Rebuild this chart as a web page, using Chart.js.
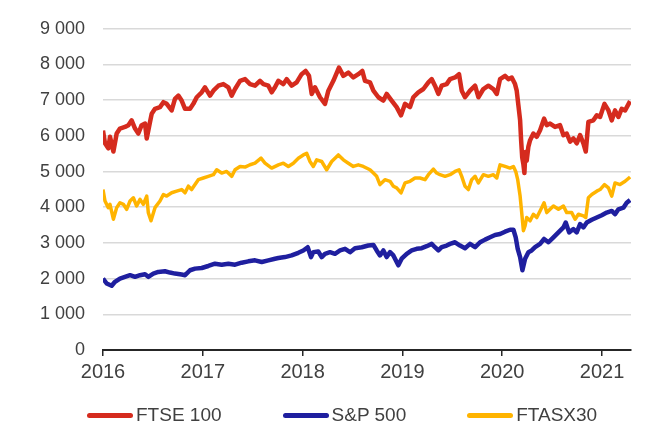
<!DOCTYPE html>
<html>
<head>
<meta charset="utf-8">
<script src="https://cdn.jsdelivr.net/npm/chart.js@4"></script>
<style>
  body { margin: 0; background: #fff; }
  #wrap { position: relative; width: 670px; height: 446px; }
  #legend { position: absolute; left: 0; top: 404px; width: 583px; padding-left: 87px; display: flex; gap: 61px;
            font-family: "Liberation Sans", Arial, sans-serif; font-size: 19px; color: #404040; }
  #legend .item { display: flex; align-items: center; }
  #legend .line { width: 46px; height: 5px; border-radius: 3px; margin-right: 3px; }
</style>
</head>
<body>
<div id="wrap">
  <canvas id="chart" width="670" height="446"></canvas>
  <div id="legend"></div>
</div>
<script>
// index levels, dates as decimal years
const seriesNames = ["FTSE 100", "S&P 500", "FTASX30"];
const seriesColors = ["#d52b1e", "#1f1f9f", "#ffb400"];
const yearTicks = [2016, 2017, 2018, 2019, 2020, 2021];

const ftseDates = [2016.000,2016.020,2016.053,2016.070,2016.104,2016.137,2016.170,2016.220,2016.254,2016.287,2016.321,2016.354,2016.387,2016.421,2016.438,2016.471,2016.488,2016.521,2016.571,2016.605,2016.638,2016.688,2016.721,2016.755,2016.788,2016.822,2016.872,2016.905,2016.939,2016.989,
  2017.022,2017.072,2017.106,2017.156,2017.206,2017.256,2017.289,2017.323,2017.373,2017.423,2017.473,2017.523,2017.573,2017.607,2017.657,2017.690,2017.723,2017.757,2017.807,2017.840,2017.890,2017.940,2017.990,
  2018.030,2018.064,2018.091,2018.124,2018.174,2018.224,2018.258,2018.308,2018.364,2018.408,2018.458,2018.508,2018.558,2018.598,2018.625,2018.675,2018.709,2018.759,2018.809,2018.842,2018.892,2018.942,2018.986,
  2019.026,2019.076,2019.109,2019.159,2019.210,2019.260,2019.293,2019.326,2019.360,2019.393,2019.443,2019.477,2019.527,2019.567,2019.594,2019.627,2019.677,2019.728,2019.761,2019.811,2019.861,2019.911,2019.945,2019.978,
  2020.028,2020.062,2020.095,2020.128,2020.145,2020.162,2020.179,2020.189,2020.200,2020.212,2020.222,2020.232,2020.245,2020.262,2020.279,2020.312,2020.346,2020.379,2020.419,2020.446,2020.479,2020.529,2020.579,2020.613,2020.646,2020.680,2020.713,2020.746,2020.780,2020.813,2020.837,2020.863,2020.913,2020.947,2020.980,
  2021.024,2021.064,2021.097,2021.130,2021.164,2021.197,2021.231,2021.281];
const ftseValues = [6150,5790,5650,5975,5560,6066,6205,6250,6300,6435,6205,6066,6300,6345,5928,6390,6620,6759,6805,6944,6897,6713,7036,7128,6990,6759,6759,6897,7082,7220,
  7360,7128,7266,7405,7450,7360,7128,7313,7543,7590,7450,7405,7543,7450,7405,7220,7360,7543,7450,7590,7405,7500,7729,
  7820,7682,7175,7360,7082,6897,7266,7543,7913,7682,7775,7636,7729,7820,7543,7500,7266,7082,6990,7175,6990,6805,6574,
  6897,6805,7082,7220,7313,7500,7590,7405,7175,7405,7450,7590,7636,7729,7266,7082,7266,7405,7082,7313,7405,7313,7175,7590,
  7682,7590,7636,7450,7266,6850,6435,5880,5400,5200,4958,5550,5300,5700,5880,6066,5975,6158,6482,6300,6345,6250,6300,6020,6066,5836,5928,5790,6020,5790,5560,6390,6435,6574,6528,
  6897,6713,6435,6713,6528,6759,6713,6972];

const spDates = [2016.000,2016.037,2016.087,2016.120,2016.170,2016.220,2016.271,2016.321,2016.371,2016.421,2016.454,2016.504,2016.554,2016.621,2016.671,2016.721,2016.788,2016.822,2016.872,2016.922,2016.989,
  2017.055,2017.122,2017.189,2017.256,2017.323,2017.389,2017.456,2017.523,2017.590,2017.657,2017.723,2017.757,2017.823,2017.890,2017.957,
  2018.007,2018.051,2018.084,2018.107,2018.157,2018.191,2018.224,2018.274,2018.324,2018.375,2018.425,2018.475,2018.525,2018.592,2018.658,2018.709,2018.742,2018.775,2018.809,2018.842,2018.876,2018.909,2018.959,2018.992,
  2019.043,2019.093,2019.143,2019.193,2019.243,2019.293,2019.326,2019.360,2019.393,2019.443,2019.477,2019.527,2019.577,2019.627,2019.677,2019.728,2019.778,2019.828,2019.878,2019.928,2019.978,
  2020.028,2020.078,2020.112,2020.135,2020.155,2020.179,2020.202,2020.229,2020.262,2020.295,2020.329,2020.379,2020.419,2020.463,2020.513,2020.563,2020.613,2020.636,2020.670,2020.713,2020.746,2020.780,2020.813,2020.847,2020.897,2020.947,2020.997,
  2021.047,2021.097,2021.130,2021.164,2021.214,2021.247,2021.281];
const spValues = [2003,1864,1800,1911,2003,2050,2096,2050,2096,2123,2050,2141,2188,2206,2170,2141,2113,2096,2235,2280,2298,
  2354,2419,2391,2419,2391,2447,2484,2512,2465,2512,2558,2576,2604,2650,2724,
  2789,2880,2604,2742,2761,2604,2696,2742,2696,2789,2835,2742,2853,2880,2927,2945,2789,2650,2789,2604,2742,2650,2373,2558,
  2696,2789,2835,2853,2909,2973,2880,2789,2880,2927,2973,3019,2927,2853,2973,2880,3019,3093,3158,3222,3250,
  3315,3370,3370,3158,2835,2604,2235,2558,2742,2789,2880,2973,3111,3019,3158,3296,3435,3573,3296,3388,3296,3527,3435,3573,3648,3712,3777,
  3850,3896,3804,3942,3989,4127,4202];

const asxDates = [2016.000,2016.020,2016.053,2016.070,2016.104,2016.137,2016.170,2016.204,2016.237,2016.271,2016.304,2016.337,2016.371,2016.404,2016.438,2016.454,2016.481,2016.521,2016.571,2016.605,2016.638,2016.688,2016.738,2016.788,2016.822,2016.855,2016.888,2016.922,2016.955,
  2017.005,2017.055,2017.106,2017.139,2017.189,2017.239,2017.289,2017.323,2017.373,2017.423,2017.473,2017.523,2017.583,2017.623,2017.690,2017.757,2017.807,2017.857,2017.907,2017.957,
  2018.007,2018.041,2018.074,2018.107,2018.141,2018.191,2018.241,2018.291,2018.358,2018.408,2018.458,2018.508,2018.558,2018.608,2018.675,2018.709,2018.742,2018.775,2018.825,2018.876,2018.909,2018.942,2018.986,
  2019.026,2019.076,2019.126,2019.176,2019.226,2019.260,2019.310,2019.343,2019.376,2019.427,2019.477,2019.527,2019.567,2019.594,2019.627,2019.661,2019.694,2019.728,2019.761,2019.811,2019.861,2019.911,2019.945,2019.978,
  2020.028,2020.078,2020.112,2020.135,2020.155,2020.179,2020.195,2020.212,2020.229,2020.245,2020.279,2020.312,2020.346,2020.379,2020.419,2020.446,2020.479,2020.513,2020.563,2020.613,2020.646,2020.696,2020.730,2020.763,2020.813,2020.837,2020.863,2020.897,2020.947,2020.980,
  2021.024,2021.064,2021.097,2021.130,2021.180,2021.231,2021.281];
const asxValues = [4496,4175,3989,4082,3665,3989,4127,4082,3942,4175,4266,4035,4220,4082,4313,3850,3620,3989,4175,4357,4313,4405,4450,4496,4405,4590,4496,4636,4773,
  4820,4866,4912,5050,4958,5003,4866,5050,5143,5125,5190,5235,5374,5235,5097,5188,5235,5143,5235,5374,
  5466,5512,5282,5143,5328,5282,5050,5282,5466,5328,5235,5143,5188,5143,5050,4958,4866,4635,4773,4727,4590,4543,4404,
  4681,4727,4820,4820,4773,4912,5069,4958,4912,4866,4912,5003,5050,4866,4590,4496,4773,4866,4681,4912,4866,4912,4820,5188,
  5143,5097,5143,5003,4773,4313,3850,3343,3482,3712,3620,3804,3712,3896,4127,3850,3942,4035,3942,4035,3850,3850,3665,3804,3758,3712,4266,4357,4450,4496,
  4635,4543,4313,4681,4636,4727,4848];

const allDates = [ftseDates, spDates, asxDates];
const allValues = [ftseValues, spValues, asxValues];
const lineWidths = [4.5, 4.5, 3.5];

const datasets = seriesNames.map(function(name, i) {
  return {
    label: name,
    data: allDates[i].map(function(d, j) { return {x: d, y: allValues[i][j]}; }),
    borderColor: seriesColors[i],
    backgroundColor: seriesColors[i],
    borderWidth: lineWidths[i],
    pointRadius: 0,
    tension: 0,
    borderJoinStyle: 'round'
  };
});

const textColor = '#404040';
const fontFamily = "'Liberation Sans', Arial, sans-serif";

new Chart("chart", {
  type: 'line',
  data: {datasets: datasets},
  options: {
    responsive: false,
    animation: false,
    devicePixelRatio: 1,
    layout: {padding: {left: 0, right: 39, top: 22, bottom: 56}},
    plugins: {legend: {display: false}, tooltip: {enabled: false}},
    scales: {
      x: {
        type: 'linear',
        min: 2016,
        max: 2021.29,
        afterFit: function(scale) { scale.height = 40; },
        afterBuildTicks: function(scale) { scale.ticks = yearTicks.map(function(v) { return {value: v}; }); },
        ticks: {color: textColor, font: {family: fontFamily, size: 20}, padding: 4, maxRotation: 0, autoSkip: false,
                callback: function(v) { return String(v); }},
        grid: {drawOnChartArea: false, drawTicks: true, tickLength: 6, color: '#262626', lineWidth: 1.5},
        border: {display: true, color: '#262626', width: 2}
      },
      y: {
        min: 0,
        max: 9000,
        afterFit: function(scale) { scale.width = 103; },
        ticks: {stepSize: 1000, color: textColor, font: {family: fontFamily, size: 18}, padding: 18,
                callback: function(v) { return String(v).replace(/\B(?=(\d{3})+(?!\d))/g, ' '); }},
        grid: {color: '#d9d9d9', lineWidth: 1.5, drawTicks: false},
        border: {display: false}
      }
    }
  }
});

// legend below the plot
const legendBox = document.getElementById('legend');
seriesNames.forEach(function(name, i) {
  const item = document.createElement('div');
  item.className = 'item';
  const line = document.createElement('span');
  line.className = 'line';
  line.style.background = seriesColors[i];
  const label = document.createElement('span');
  label.textContent = name;
  item.appendChild(line);
  item.appendChild(label);
  legendBox.appendChild(item);
});
</script>
</body>
</html>
